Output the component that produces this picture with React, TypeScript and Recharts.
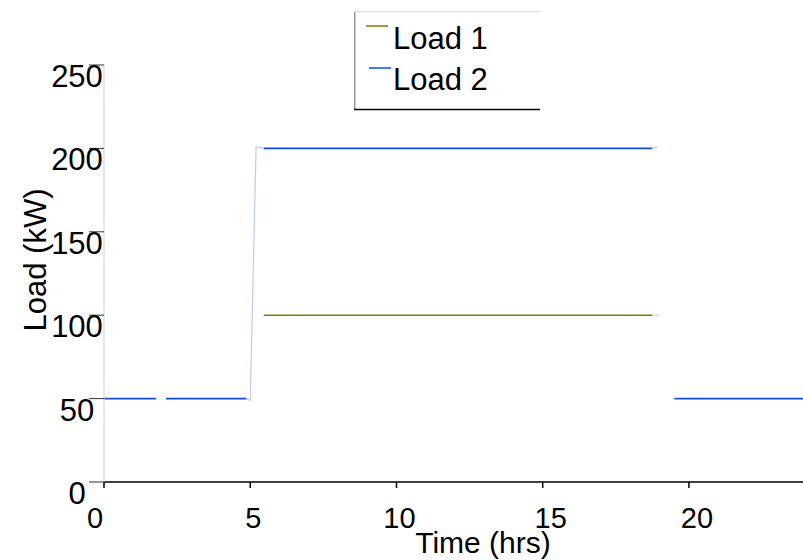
import React from "react";
import { LineChart, Line, XAxis, YAxis, Legend } from "recharts";

// hours / kW; null = gap in the trace
const load1Time = [5.46, 18.75];
const load1 = [100, 100];

const load2Time = [0, 1.78, 1.95, 2.12, 4.88, 5.17, 5.46, 18.75, 19.12, 19.5, 23.9];
const load2 = [50, 50, null, 50, 50, null, 200, 200, null, 50, 50];

// faint switching transients at the edges of the step
const rampTime = [4.85, 5.0, 5.2, 5.45];
const ramp = [50, 49, 201, 200];
const tail2Time = [18.75, 18.95];
const tail2 = [200, 201];
const tail1Time = [18.75, 19.0];
const tail1 = [100, 100];

const xTicks = [0, 5, 10, 15, 20];
const yTicks = [0, 50, 100, 150, 200, 250];

const FONT = "'Liberation Sans', Arial, sans-serif";
const BLUE = "#0a50d8";
const OLIVE = "#7f7a00";

const toRows = (ts: number[], vs: (number | null)[]) =>
  ts.map((t, i) => ({ t, v: vs[i] }));

const XTick = ({ x, y, payload }: any) => {
  const dx = payload.value === 0 ? -9 : payload.value < 15 ? 3 : 8;
  return (
    <text x={x + dx} y={y + 38} textAnchor="middle" fontSize={29} fontFamily={FONT} fill="#000">
      {payload.value}
    </text>
  );
};

const YTick = ({ y, payload }: any) => (
  <text x={77} y={y + 22} textAnchor="middle" fontSize={31} fontFamily={FONT} fill="#000">
    {payload.value}
  </text>
);

const LegendBox = ({ payload }: any) => {
  const items = (payload || []).filter((p: any) => p.type !== "none");
  return (
    <svg width={186} height={100}>
      <line x1={0.75} y1={0} x2={0.75} y2={99} stroke="#999" strokeWidth={1.5} />
      <line x1={0} y1={0.5} x2={186} y2={0.5} stroke="#ddd" strokeWidth={1} />
      <line x1={0} y1={98.5} x2={186} y2={98.5} stroke="#000" strokeWidth={1.5} />
      {items.map((p: any, i: number) => (
        <g key={p.value}>
          <line x1={12 + i * 3} y1={15 + i * 42} x2={34 + i * 3} y2={15 + i * 42} stroke={p.color} strokeWidth={1.5} />
          <text x={39} y={38 + i * 41} fontSize={31} fontFamily={FONT} fill="#000">
            {p.value}
          </text>
        </g>
      ))}
    </svg>
  );
};

export default function App() {
  return (
    <div style={{ position: "absolute", left: 0, top: 0, background: "#fff" }}>
      <LineChart width={803} height={560} margin={{ top: 65, right: 0, left: 0, bottom: 28 }}>
        <XAxis
          type="number"
          dataKey="t"
          domain={[0, 23.9]}
          ticks={xTicks}
          allowDataOverflow
          axisLine={{ stroke: "#000", strokeWidth: 1.5 }}
          tickLine={{ stroke: "#000", strokeWidth: 1.5 }}
          tickSize={6}
          height={50}
          tick={<XTick />}
          label={{
            content: () => (
              <text x={483} y={553} textAnchor="middle" fontSize={30} fontFamily={FONT} fill="#000">
                Time (hrs)
              </text>
            ),
          }}
        />
        <YAxis
          type="number"
          domain={[0, 250]}
          ticks={yTicks}
          width={104}
          axisLine={{ stroke: "#cfcfcf", strokeWidth: 1 }}
          tickLine={{ stroke: "#333", strokeWidth: 1 }}
          tickSize={15}
          tick={<YTick />}
          label={{
            content: () => (
              <text
                x={46}
                y={260}
                transform="rotate(-90, 46, 260)"
                textAnchor="middle"
                fontSize={31}
                fontFamily={FONT}
                fill="#000"
              >
                Load (kW)
              </text>
            ),
          }}
        />
        <Legend
          layout="horizontal"
          align="center"
          verticalAlign="middle"
          content={<LegendBox />}
          wrapperStyle={{ position: "absolute", left: 354, top: 11, width: 186, height: 100 }}
        />
        <Line
          data={toRows(load1Time, load1)}
          dataKey="v"
          name="Load 1"
          stroke={OLIVE}
          strokeWidth={1.6}
          dot={false}
          isAnimationActive={false}
        />
        <Line
          data={toRows(load2Time, load2)}
          dataKey="v"
          name="Load 2"
          stroke={BLUE}
          strokeWidth={1.8}
          dot={false}
          connectNulls={false}
          isAnimationActive={false}
        />
        <Line
          data={toRows(rampTime, ramp)}
          dataKey="v"
          stroke="#b9cdf3"
          strokeWidth={1.2}
          dot={false}
          legendType="none"
          isAnimationActive={false}
        />
        <Line
          data={toRows(tail2Time, tail2)}
          dataKey="v"
          stroke="#b9cdf3"
          strokeWidth={1.2}
          dot={false}
          legendType="none"
          isAnimationActive={false}
        />
        <Line
          data={toRows(tail1Time, tail1)}
          dataKey="v"
          stroke="#dcdab0"
          strokeWidth={1.2}
          dot={false}
          legendType="none"
          isAnimationActive={false}
        />
      </LineChart>
    </div>
  );
}
